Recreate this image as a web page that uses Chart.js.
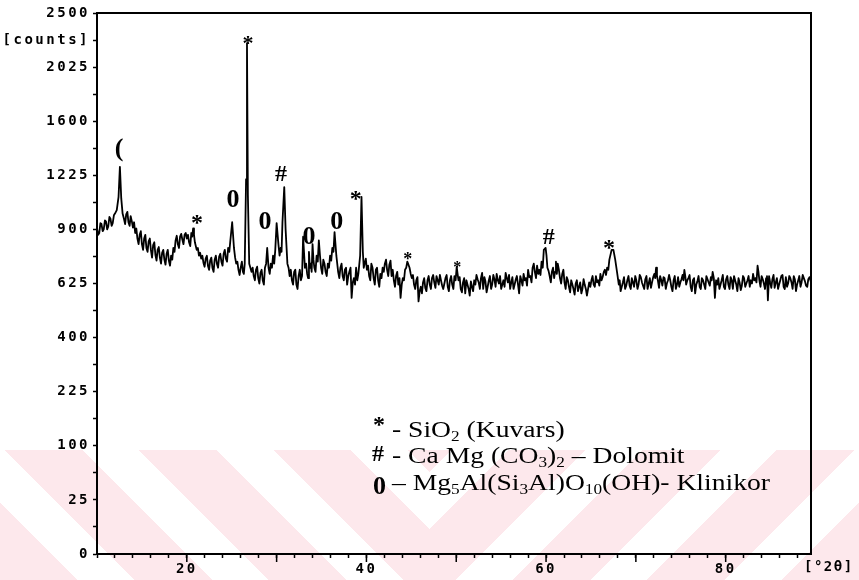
<!DOCTYPE html>
<html>
<head>
<meta charset="utf-8">
<script src="https://cdn.jsdelivr.net/npm/chart.js@4.4.1/dist/chart.umd.min.js"></script>
<style>
  body { margin: 0; background: #fff; }
  #wrap { position: relative; width: 859px; height: 580px; overflow: hidden; }
  .wm { position: absolute; top: 450px; height: 130px; }
  #wmL { left: 0; width: 430px; background: repeating-linear-gradient(45deg, #fde8ec 0 55px, #fff 55px 95px); }
  #wmR { left: 430px; width: 429px; background: repeating-linear-gradient(-45deg, #fde8ec 0 55px, #fff 55px 95px); }
  canvas { position: absolute; left: 0; top: 0; }
  .lg { position: absolute; font-family: "Liberation Serif", "Times New Roman", serif; font-size: 24px; line-height: 24px; color: #000; white-space: nowrap; }
  .lg.t { transform: scaleX(1.15); transform-origin: 0 0; }
  .lg sub { font-size: 15px; vertical-align: -4px; line-height: 0; }
  .sym { font-weight: bold; }
  #xunit { position: absolute; left: 804px; top: 558px; font: bold 14px "DejaVu Sans Mono", monospace; letter-spacing: 1.5px; }
</style>
</head>
<body>
<div id="wrap">
  <div class="wm" id="wmL"></div>
  <div class="wm" id="wmR"></div>
  <canvas id="chart" width="859" height="580"></canvas>
  <div class="lg sym" style="left:373px;top:412px">*</div>
  <div class="lg t" style="left:392px;top:417px">- SiO<sub>2</sub> (Kuvars)</div>
  <div class="lg sym" style="left:372px;top:441px;font-size:24px">#</div>
  <div class="lg t" style="left:392px;top:443px">- Ca Mg (CO<sub>3</sub>)<sub>2</sub> – Dolomit</div>
  <div class="lg sym" style="left:373px;top:474px;font-size:26px">0</div>
  <div class="lg t" style="left:392px;top:470px">– Mg<sub>5</sub>Al(Si<sub>3</sub>Al)O<sub>10</sub>(OH)- Klinikor</div>
  <div id="xunit">[°2θ]</div>
</div>
<script>
// 2-theta positions (degrees) and intensities (counts)
const twoTheta = [
  10.00, 10.13, 10.25, 10.38, 10.50, 10.63, 10.75, 10.88, 11.00, 11.13,
  11.25, 11.38, 11.50, 11.63, 11.75, 11.88, 12.00, 12.20, 12.40, 12.55,
  12.70, 12.85, 13.00, 13.13, 13.25, 13.38, 13.50, 13.63, 13.75, 13.88,
  14.00, 14.13, 14.25, 14.38, 14.50, 14.63, 14.75, 14.88, 15.00, 15.13,
  15.25, 15.38, 15.50, 15.63, 15.75, 15.88, 16.00, 16.13, 16.25, 16.38,
  16.50, 16.63, 16.75, 16.88, 17.00, 17.13, 17.25, 17.38, 17.50, 17.63,
  17.75, 17.88, 18.00, 18.13, 18.25, 18.38, 18.50, 18.63, 18.75, 18.88,
  19.00, 19.13, 19.25, 19.38, 19.50, 19.63, 19.75, 19.88, 20.00, 20.13,
  20.25, 20.38, 20.50, 20.60, 20.70, 20.80, 20.90, 21.00, 21.10, 21.23,
  21.35, 21.48, 21.60, 21.73, 21.85, 21.98, 22.10, 22.23, 22.35, 22.48,
  22.60, 22.73, 22.85, 22.98, 23.10, 23.23, 23.35, 23.48, 23.60, 23.73,
  23.85, 23.98, 24.10, 24.23, 24.35, 24.48, 24.60, 24.73, 24.85, 25.05,
  25.25, 25.38, 25.50, 25.63, 25.75, 25.88, 26.00, 26.13, 26.25, 26.35,
  26.45, 26.60, 26.70, 26.80, 26.95, 27.08, 27.20, 27.33, 27.45, 27.58,
  27.70, 27.83, 27.95, 28.08, 28.20, 28.33, 28.45, 28.58, 28.70, 28.83,
  28.95, 29.10, 29.23, 29.35, 29.48, 29.60, 29.73, 29.85, 30.00, 30.20,
  30.33, 30.45, 30.55, 30.65, 30.85, 31.00, 31.20, 31.33, 31.45, 31.58,
  31.70, 31.83, 31.95, 32.08, 32.20, 32.33, 32.45, 32.58, 32.70, 32.83,
  32.95, 33.15, 33.28, 33.40, 33.50, 33.60, 33.70, 33.80, 33.90, 34.00,
  34.10, 34.20, 34.33, 34.45, 34.58, 34.70, 34.83, 34.95, 35.08, 35.20,
  35.33, 35.45, 35.58, 35.70, 35.83, 35.95, 36.08, 36.20, 36.33, 36.45,
  36.65, 36.85, 36.98, 37.10, 37.23, 37.35, 37.48, 37.60, 37.73, 37.85,
  37.98, 38.10, 38.23, 38.35, 38.48, 38.60, 38.73, 38.85, 38.98, 39.10,
  39.30, 39.45, 39.60, 39.70, 39.80, 39.93, 40.05, 40.18, 40.30, 40.43,
  40.55, 40.68, 40.80, 40.93, 41.05, 41.18, 41.30, 41.43, 41.55, 41.68,
  41.80, 41.93, 42.05, 42.18, 42.30, 42.43, 42.55, 42.68, 42.80, 42.93,
  43.05, 43.18, 43.30, 43.43, 43.55, 43.68, 43.80, 43.93, 44.05, 44.18,
  44.30, 44.43, 44.55, 44.68, 44.80, 44.93, 45.05, 45.18, 45.30, 45.43,
  45.55, 45.68, 45.80, 45.93, 46.05, 46.18, 46.30, 46.43, 46.55, 46.68,
  46.80, 46.93, 47.05, 47.18, 47.30, 47.43, 47.55, 47.68, 47.80, 47.93,
  48.05, 48.18, 48.30, 48.43, 48.55, 48.68, 48.80, 48.93, 49.05, 49.18,
  49.30, 49.43, 49.55, 49.68, 49.80, 49.93, 50.05, 50.15, 50.25, 50.38,
  50.50, 50.63, 50.75, 50.88, 51.00, 51.13, 51.25, 51.38, 51.50, 51.63,
  51.75, 51.88, 52.00, 52.13, 52.25, 52.38, 52.50, 52.63, 52.75, 52.88,
  53.00, 53.13, 53.25, 53.38, 53.50, 53.63, 53.75, 53.88, 54.00, 54.13,
  54.25, 54.38, 54.50, 54.63, 54.75, 54.88, 55.00, 55.13, 55.25, 55.38,
  55.50, 55.63, 55.75, 55.88, 56.00, 56.13, 56.25, 56.38, 56.50, 56.63,
  56.75, 56.88, 57.00, 57.13, 57.25, 57.38, 57.50, 57.63, 57.75, 57.88,
  58.00, 58.13, 58.25, 58.38, 58.50, 58.63, 58.75, 58.88, 59.00, 59.13,
  59.25, 59.38, 59.50, 59.63, 59.75, 59.95, 60.05, 60.15, 60.28, 60.40,
  60.53, 60.65, 60.78, 60.90, 61.00, 61.10, 61.20, 61.30, 61.43, 61.55,
  61.68, 61.80, 61.93, 62.05, 62.18, 62.30, 62.43, 62.55, 62.68, 62.80,
  62.93, 63.05, 63.18, 63.30, 63.43, 63.55, 63.68, 63.80, 63.93, 64.05,
  64.18, 64.30, 64.43, 64.55, 64.68, 64.80, 64.93, 65.05, 65.18, 65.30,
  65.43, 65.55, 65.68, 65.80, 65.93, 66.05, 66.18, 66.30, 66.43, 66.55,
  66.68, 66.80, 66.93, 67.05, 67.30, 67.50, 67.70, 67.90, 68.10, 68.20,
  68.30, 68.43, 68.55, 68.68, 68.80, 68.93, 69.05, 69.18, 69.30, 69.43,
  69.55, 69.68, 69.80, 69.93, 70.05, 70.18, 70.30, 70.43, 70.55, 70.68,
  70.80, 70.93, 71.05, 71.18, 71.30, 71.43, 71.55, 71.68, 71.80, 71.93,
  72.05, 72.15, 72.25, 72.35, 72.45, 72.58, 72.70, 72.83, 72.95, 73.08,
  73.20, 73.33, 73.45, 73.58, 73.70, 73.83, 73.95, 74.08, 74.20, 74.33,
  74.45, 74.58, 74.70, 74.83, 74.95, 75.08, 75.20, 75.30, 75.40, 75.50,
  75.60, 75.73, 75.85, 75.98, 76.10, 76.23, 76.35, 76.48, 76.60, 76.73,
  76.85, 76.98, 77.10, 77.23, 77.35, 77.48, 77.60, 77.73, 77.85, 77.98,
  78.10, 78.23, 78.35, 78.45, 78.55, 78.68, 78.80, 78.93, 79.05, 79.18,
  79.30, 79.43, 79.55, 79.68, 79.80, 79.93, 80.05, 80.18, 80.30, 80.43,
  80.55, 80.68, 80.80, 80.93, 81.05, 81.18, 81.30, 81.43, 81.55, 81.68,
  81.80, 81.93, 82.05, 82.18, 82.30, 82.43, 82.55, 82.68, 82.80, 82.93,
  83.05, 83.18, 83.30, 83.43, 83.55, 83.65, 83.75, 83.88, 84.00, 84.13,
  84.25, 84.38, 84.50, 84.60, 84.70, 84.83, 84.95, 85.08, 85.20, 85.33,
  85.45, 85.58, 85.70, 85.83, 85.95, 86.08, 86.20, 86.33, 86.45, 86.58,
  86.70, 86.83, 86.95, 87.08, 87.20, 87.33, 87.45, 87.58, 87.70, 87.83,
  87.95, 88.08, 88.20, 88.33, 88.45, 88.58, 88.70, 88.83, 88.95, 89.08,
  89.20, 89.35, 89.50
];
const counts = [
  905, 870, 880, 935, 930, 890, 900, 950, 945, 900,
  915, 970, 960, 920, 935, 980, 990, 1010, 1090, 1280,
  1080, 990, 960, 930, 985, 1000, 940, 920, 975, 945,
  910, 940, 880, 905, 850, 820, 870, 890, 820, 790,
  850, 870, 800, 780, 835, 850, 790, 750, 815, 830,
  765, 735, 790, 805, 750, 720, 775, 790, 740, 715,
  770, 790, 735, 710, 760, 740, 800, 780, 840, 865,
  820, 800, 860, 875, 845, 820, 870, 880, 850, 870,
  830, 810, 880, 860, 905, 870, 830, 810, 790, 800,
  760, 775, 745, 760, 725, 705, 745, 760, 710, 690,
  735, 750, 700, 680, 740, 760, 720, 700, 755, 770,
  730, 710, 770, 790, 745, 730, 800, 780, 840, 940,
  800, 750, 720, 730, 690, 665, 700, 730, 680, 670,
  720, 1200, 2230, 1100, 720, 700, 680, 700, 660, 640,
  690, 705, 650, 625, 675, 690, 640, 620, 700, 720,
  800, 700, 670, 720, 700, 760, 720, 790, 935, 820,
  760, 800, 780, 940, 1150, 900, 720, 700, 660, 690,
  640, 620, 680, 690, 620, 600, 660, 690, 640, 660,
  860, 700, 720, 670, 650, 780, 700, 720, 680, 820,
  740, 700, 680, 760, 730, 840, 760, 700, 670, 740,
  720, 680, 660, 720, 700, 760, 735, 800, 780, 885,
  760, 680, 650, 700, 720, 660, 640, 690, 700, 620,
  660, 680, 700, 560, 630, 650, 620, 700, 640, 670,
  760, 1090, 780, 700, 720, 745, 690, 710, 660, 640,
  720, 700, 650, 620, 690, 700, 640, 610, 670, 650,
  700, 680, 720, 740, 690, 660, 715, 735, 660, 690,
  640, 610, 660, 680, 620, 650, 560, 620, 650, 640,
  690, 700, 730, 715, 700, 670, 650, 665, 620, 600,
  640, 655, 545, 590, 610, 580, 630, 650, 605, 590,
  640, 660, 620, 600, 650, 665, 630, 605, 660, 640,
  620, 665, 640, 615, 600, 625, 650, 665, 610, 590,
  640, 660, 620, 600, 660, 640, 705, 670, 640, 655,
  600, 585, 630, 650, 580, 640, 620, 600, 570, 635,
  610, 590, 640, 620, 665, 645, 630, 600, 650, 675,
  600, 655, 635, 585, 610, 640, 660, 600, 620, 665,
  645, 610, 670, 640, 625, 660, 600, 620, 640, 610,
  675, 650, 630, 665, 600, 630, 655, 600, 620, 645,
  660, 620, 580, 660, 640, 615, 670, 640, 650, 615,
  690, 655, 660, 630, 700, 720, 680, 650, 710, 670,
  690, 665, 730, 700, 790, 800, 760, 700, 685, 660,
  630, 680, 700, 650, 680, 730, 670, 720, 690, 650,
  625, 670, 690, 630, 600, 655, 640, 610, 585, 640,
  620, 600, 575, 625, 640, 590, 610, 630, 580, 600,
  645, 620, 600, 570, 600, 630, 610, 640, 660, 620,
  610, 660, 630, 640, 615, 670, 640, 655, 680, 690,
  665, 700, 690, 740, 790, 790, 740, 680, 620, 640,
  590, 610, 630, 655, 600, 615, 640, 660, 615, 600,
  650, 630, 610, 660, 640, 600, 620, 665, 655, 630,
  615, 600, 645, 660, 600, 625, 650, 605, 630, 655,
  670, 650, 700, 660, 640, 605, 660, 640, 615, 655,
  650, 600, 625, 640, 665, 640, 610, 590, 640, 660,
  600, 620, 655, 610, 630, 645, 665, 640, 690, 660,
  620, 640, 650, 665, 610, 590, 640, 650, 580, 620,
  635, 660, 610, 600, 650, 640, 620, 600, 660, 645,
  630, 615, 655, 640, 680, 650, 560, 640, 620, 650,
  600, 620, 640, 665, 610, 600, 645, 660, 620, 600,
  655, 640, 600, 660, 640, 620, 590, 650, 630, 595,
  615, 660, 650, 610, 625, 640, 660, 610, 640, 625,
  670, 640, 650, 630, 710, 680, 640, 610, 660, 645,
  625, 600, 650, 660, 550, 660, 630, 605, 645, 665,
  605, 630, 650, 600, 620, 640, 660, 665, 610, 600,
  655, 610, 625, 660, 650, 630, 600, 660, 645, 590,
  620, 640, 660, 610, 630, 665, 650, 635, 615, 610,
  645, 655, 630
];

// y axis: square-root counts scale
const yMajorTicks = [0, 25, 100, 225, 400, 625, 900, 1225, 1600, 2025, 2500];
const yUnitLabel = '[counts]';
const xLabelTicks = [20, 40, 60, 80];

// phase marks above the peaks
const markText   = ['(', '*', '0', '0', '#', '0', '0', '*', '*', '*', '#', '*', '*'];
const markDeg    = [12.45, 21.14, 25.15, 28.7, 30.5, 33.6, 36.7, 38.8, 44.6, 50.1, 60.3, 67.0, 26.8];
const markCounts = [1408, 970, 1083, 953, 1240, 869, 953, 1113, 764, 724, 864, 831, 2274];
const markSize   = [26, 24, 26, 26, 24, 26, 26, 24, 18, 16, 24, 24, 22];

class SqrtScale extends Chart.LinearScale {
  static id = 'sqrt';
  getPixelForValue(value) {
    const s0 = Math.sqrt(this.min), s1 = Math.sqrt(this.max);
    return this.getPixelForDecimal((Math.sqrt(Math.max(value, 0)) - s0) / (s1 - s0));
  }
  getValueForPixel(pixel) {
    const s0 = Math.sqrt(this.min), s1 = Math.sqrt(this.max);
    const s = s0 + this.getDecimalForPixel(pixel) * (s1 - s0);
    return s * s;
  }
}
Chart.register(SqrtScale);

// minor ticks halfway between the majors (in sqrt space)
const yTicks = [];
yMajorTicks.forEach((v, i) => {
  yTicks.push(v);
  if (i < yMajorTicks.length - 1) {
    const m = (Math.sqrt(v) + Math.sqrt(yMajorTicks[i + 1])) / 2;
    yTicks.push(m * m);
  }
});

const lift = { '*': 0.55, '0': 0.34, '#': 0.34, '(': 0.30 };

const decor = {
  id: 'decor',
  beforeDraw(chart) {
    chart.ctx.letterSpacing = '2.5px';
  },
  afterDraw(chart) {
    const { ctx, chartArea: a, scales } = chart;
    ctx.save();
    ctx.letterSpacing = '0px';
    ctx.strokeStyle = '#000';
    ctx.lineWidth = 2;
    ctx.beginPath();
    ctx.moveTo(a.left, a.top);
    ctx.lineTo(a.right, a.top);
    ctx.lineTo(a.right, a.bottom);
    ctx.stroke();
    ctx.lineWidth = 1.5;
    ctx.beginPath();
    for (let v = 20; v <= 80; v += 10) {
      const px = scales.x.getPixelForValue(v);
      ctx.moveTo(px, a.bottom);
      ctx.lineTo(px, a.bottom + 8);
    }
    ctx.stroke();

    ctx.fillStyle = '#000';
    ctx.textAlign = 'center';
    ctx.textBaseline = 'alphabetic';
    markText.forEach((t, i) => {
      const px = scales.x.getPixelForValue(markDeg[i]);
      const py = scales.y.getPixelForValue(markCounts[i]);
      ctx.font = 'bold ' + markSize[i] + 'px "Liberation Serif", serif';
      ctx.fillText(t, px, py + lift[t] * markSize[i]);
    });
    ctx.restore();
  }
};

new Chart(document.getElementById('chart'), {
  type: 'line',
  data: {
    datasets: [{
      data: twoTheta.map((x, i) => ({ x: x, y: counts[i] })),
      borderColor: '#000',
      borderWidth: 1.8,
      borderJoinStyle: 'round',
      pointRadius: 0,
      tension: 0
    }]
  },
  options: {
    responsive: false,
    animation: false,
    events: [],
    layout: { padding: { top: 13, right: 48, left: 0, bottom: 0 } },
    plugins: { legend: { display: false }, tooltip: { enabled: false } },
    scales: {
      x: {
        type: 'linear',
        min: 10,
        max: 89.5,
        afterFit: s => { s.height = 26; },
        afterBuildTicks: s => {
          const t = [];
          for (let v = 10; v <= 88; v += 2) t.push({ value: v });
          s.ticks = t;
        },
        grid: { drawOnChartArea: false, tickLength: 4, tickColor: '#000', tickWidth: 1.5 },
        border: { color: '#000', width: 2 },
        ticks: {
          autoSkip: false,
          maxRotation: 0,
          padding: 3,
          color: '#000',
          font: { family: 'DejaVu Sans Mono', size: 14, weight: 'bold' },
          callback: v => xLabelTicks.includes(v) ? String(v) : ''
        }
      },
      y: {
        type: 'sqrt',
        min: 0,
        max: 2500,
        afterFit: s => { s.width = 97; },
        afterBuildTicks: s => { s.ticks = yTicks.map(v => ({ value: v })); },
        grid: { drawOnChartArea: false, tickLength: 4, tickColor: '#000', tickWidth: 1.5 },
        border: { color: '#000', width: 2 },
        ticks: {
          autoSkip: false,
          padding: 3,
          color: '#000',
          font: { family: 'DejaVu Sans Mono', size: 14, weight: 'bold' },
          callback: v => {
            if (yMajorTicks.includes(v)) return String(v);
            return Math.abs(Math.sqrt(v) - 47.5) < 0.01 ? yUnitLabel : '';
          }
        }
      }
    }
  },
  plugins: [decor]
});
</script>
</body>
</html>
